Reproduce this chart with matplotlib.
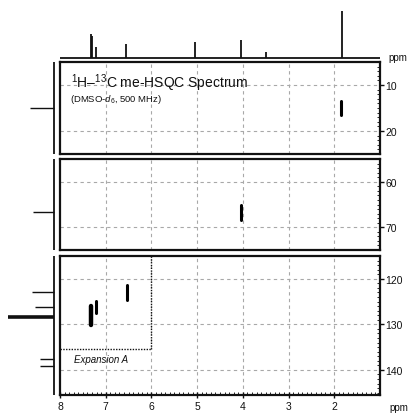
import matplotlib
matplotlib.use("Agg")
import matplotlib.pyplot as plt
from matplotlib.ticker import MultipleLocator, FixedLocator

plt.rcParams['font.family'] = ['Liberation Sans', 'DejaVu Sans']
plt.rcParams['mathtext.fontset'] = 'custom'
plt.rcParams['mathtext.rm'] = 'Liberation Sans'
plt.rcParams['mathtext.it'] = 'Liberation Sans:italic'
plt.rcParams['mathtext.bf'] = 'Liberation Sans:bold'

# ---- 1H projection (top) ----
h_shift = [7.33, 7.30, 7.22, 6.55, 5.04, 4.04, 3.50, 1.84]
h_int = [0.49, 0.45, 0.22, 0.29, 0.33, 0.37, 0.12, 0.95]

# ---- 13C windows (one per panel) ----
c_limits = [(25, 5), (75, 55), (145.5, 115)]
c_ticks = [[10, 20], [60, 70], [120, 130, 140]]
c_shift = [[15.1], [66.7], [122.9, 126.2, 128.4, 137.6, 139.1]]
c_int = [[0.45], [0.39], [0.41, 0.35, 0.85, 0.26, 0.26]]
c_width = [[1.0], [1.0], [1.0, 1.0, 2.6, 1.0, 1.0]]

# ---- HSQC cross peaks: 1H ppm, 13C ppm, 13C half-extent, panel ----
xp_h = [1.86, 4.03, 6.54, 7.22, 7.33]
xp_c = [15.0, 66.7, 123.1, 126.2, 128.1]
xp_half = [1.55, 1.6, 1.65, 1.4, 2.1]
xp_panel = [0, 1, 2, 2, 2]
xp_lw = [2.2, 2.2, 2.2, 2.2, 3.2]

h_ticks = [8, 7, 6, 5, 4, 3, 2]

W, H = 410, 414
fig = plt.figure(figsize=(W / 100, H / 100), dpi=100)


def rect(l, t, r, b):
    return [l / W, 1 - b / H, (r - l) / W, (b - t) / H]


dark = '#111111'
grid_kw = dict(color='#a8a8a8', lw=0.8, linestyle=(0, (3, 3)))

# top 1H trace
axt = fig.add_axes(rect(60, 10, 380, 61))
axt.set_xlim(8, 1)
axt.set_ylim(-0.04, 1.0)
axt.axhline(0, color=dark, lw=1.3)
axt.vlines(h_shift, 0, h_int, color=dark, lw=1.3)
axt.axis('off')

panel_px = [(63, 155), (160, 251), (257, 396)]
axes = []
for i, (top, bot) in enumerate(panel_px):
    ax = fig.add_axes(rect(60, top, 380, bot))
    ax.set_xlim(8, 1)
    ax.set_ylim(*c_limits[i])
    ax.yaxis.tick_right()
    ax.yaxis.set_major_locator(FixedLocator(c_ticks[i]))
    ax.yaxis.set_minor_locator(MultipleLocator(1))
    ax.xaxis.set_major_locator(FixedLocator(h_ticks + [1]))
    ax.xaxis.set_minor_locator(MultipleLocator(0.1))
    for x in h_ticks[1:]:
        ax.axvline(x, **grid_kw, zorder=0)
    for y in c_ticks[i]:
        ax.axhline(y, **grid_kw, zorder=0)
    for s in ax.spines.values():
        s.set_linewidth(1.6)
        s.set_color(dark)
    ax.tick_params(axis='y', which='major', direction='out', length=3,
                   width=1, labelsize=7.5, pad=1, colors=dark)
    ax.tick_params(axis='y', which='minor', direction='in', length=2, width=0.6)
    if i < 2:
        ax.tick_params(axis='x', which='both', bottom=False, labelbottom=False)
    else:
        ax.tick_params(axis='x', which='major', direction='inout', length=5,
                       width=1, labelsize=7.5, pad=2, colors=dark)
        ax.tick_params(axis='x', which='minor', direction='in', length=2, width=0.6)
        ax.set_xticks(h_ticks)
        ax.set_xticklabels([str(t) for t in h_ticks])
    axes.append(ax)

    # 13C projection on the left
    axl = fig.add_axes(rect(0, top, 56, bot))
    axl.set_xlim(1.0, -0.04)
    axl.set_ylim(*c_limits[i])
    axl.axvline(0, color=dark, lw=1.3)
    for s, v, w in zip(c_shift[i], c_int[i], c_width[i]):
        axl.hlines(s, 0, v, color=dark, lw=w)
    axl.axis('off')

# cross peaks
for h, c, hw, p, lw in zip(xp_h, xp_c, xp_half, xp_panel, xp_lw):
    axes[p].plot([h, h], [c - hw, c + hw], color='black', lw=lw,
                 solid_capstyle='round', zorder=5)

# expansion region
ax3 = axes[2]
ax3.plot([6.0, 6.0], [115, 135.4], color=dark, lw=1.0, linestyle=(0, (1, 1)))
ax3.plot([8, 6.0], [135.4, 135.4], color=dark, lw=1.0, linestyle=(0, (1, 1)))
ax3.text(7.7, 137.6, 'Expansion A', fontsize=7, style='italic',
         ha='left', va='center', color=dark)

# titles
ax1 = axes[0]
ax1.text(7.75, 10.5, '$^{1}$H–$^{13}$C me-HSQC Spectrum', fontsize=10,
         ha='left', va='baseline', color=dark)
ax1.text(7.78, 13.0, '(DMSO-$d_6$, 500 MHz)', fontsize=6.8,
         ha='left', va='center', color=dark)

fig.text(388 / W, 1 - 58 / H, 'ppm', fontsize=7, ha='left', va='center', color=dark)
fig.text(389 / W, 1 - 408 / H, 'ppm', fontsize=7, ha='left', va='center', color=dark)

fig.savefig('out.png', dpi=100)
